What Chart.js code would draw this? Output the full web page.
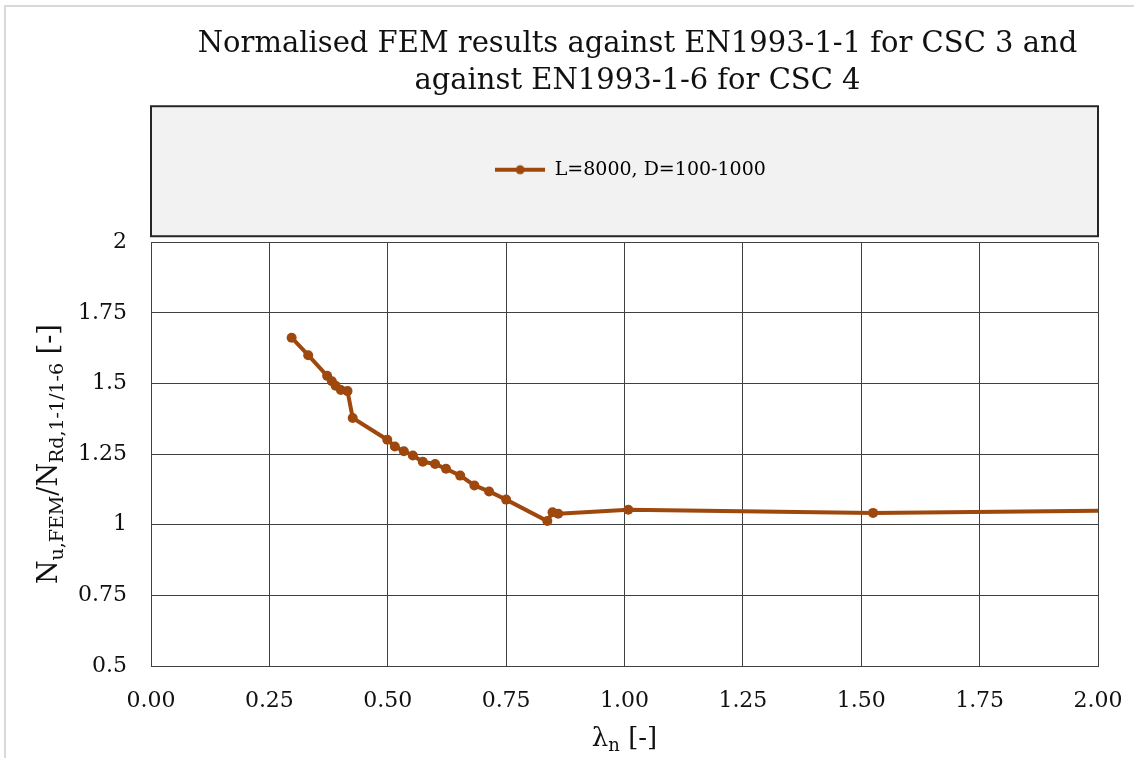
<!DOCTYPE html>
<html>
<head>
<meta charset="utf-8">
<title>Normalised FEM results</title>
<script src="https://cdn.jsdelivr.net/npm/chart.js@4.4.1/dist/chart.umd.min.js"></script>
<style>
  html, body { margin: 0; padding: 0; background: #fff; }
  #wrap { position: relative; width: 1134px; height: 758px; }
</style>
</head>
<body>
<div id="wrap"><canvas id="femChart"></canvas></div>
<script>
// normalised slenderness and FEM / code resistance ratio
const slenderness = [0.297, 0.332, 0.372, 0.382, 0.390, 0.401, 0.415, 0.426, 0.499, 0.515,
  0.534, 0.553, 0.574, 0.600, 0.623, 0.653, 0.683, 0.714, 0.750, 0.837,
  0.848, 0.860, 1.008, 1.525, 2.500];
const resistanceRatio = [1.662, 1.600, 1.527, 1.508, 1.492, 1.477, 1.473, 1.378, 1.301, 1.277,
  1.260, 1.245, 1.223, 1.215, 1.198, 1.174, 1.139, 1.118, 1.089, 1.013,
  1.044, 1.039, 1.053, 1.042, 1.058];

const seriesLabel = 'L=8000, D=100-1000';
const titleLines = ['Normalised FEM results against EN1993-1-1 for CSC 3 and', 'against EN1993-1-6 for CSC 4'];
const xTickLabels = ['0.00', '0.25', '0.50', '0.75', '1.00', '1.25', '1.50', '1.75', '2.00'];
const yTickLabels = ['0.5', '0.75', '1', '1.25', '1.5', '1.75', '2'];

const SERIF = '"DejaVu Serif", "Liberation Serif", serif';
const INK = '#111111';
const LINE = '#9e480e';
const GRID = '#404040';

// axis titles with subscripts
const xTitleParts = [{ t: 'λ' }, { t: 'n', sub: true }, { t: ' [-]' }];
const yTitleParts = [{ t: 'N' }, { t: 'u,FEM', sub: true }, { t: '/N' }, { t: 'Rd,1-1/1-6', sub: true }, { t: ' [-]' }];

function drawRich(ctx, parts, size) {
  let total = 0;
  parts.forEach(p => {
    ctx.font = (p.sub ? Math.round(size * 0.7) : size) + 'px ' + SERIF;
    p.w = ctx.measureText(p.t).width;
    total += p.w;
  });
  let x = -total / 2;
  parts.forEach(p => {
    ctx.font = (p.sub ? Math.round(size * 0.7) : size) + 'px ' + SERIF;
    ctx.fillText(p.t, x, p.sub ? size * 0.3 : 0);
    x += p.w;
  });
}

// legend marker: short line with a dot in the middle
function legendMarker() {
  const c = document.createElement('canvas');
  c.width = 50; c.height = 12;
  const g = c.getContext('2d');
  g.strokeStyle = LINE; g.lineWidth = 4;
  g.beginPath(); g.moveTo(0, 6); g.lineTo(50, 6); g.stroke();
  g.fillStyle = LINE;
  g.beginPath(); g.arc(25, 6, 4.5, 0, Math.PI * 2); g.fill();
  return c;
}

const LEGEND_EXTRA = 53; // gap under the legend item, down to the plot

const frameAndLegendBox = {
  id: 'frameAndLegendBox',
  beforeLayout(chart) {
    const legend = chart.legend;
    if (legend && !legend._tallFit) {
      const fit = legend.fit.bind(legend);
      legend.fit = function () { fit(); this.height += LEGEND_EXTRA; };
      legend._tallFit = true;
    }
  },
  beforeDraw(chart) {
    const { ctx, chartArea: a, legend, titleBlock } = chart;
    ctx.save();
    ctx.fillStyle = '#d9d9d9';
    ctx.fillRect(4, 5, 2, chart.height);
    ctx.fillRect(4, 5, chart.width, 2);

    // legend box spans the plot width
    legend.left = a.left + 12;
    legend.right = a.right;
    legend.width = legend.right - legend.left;
    const boxBottom = a.top - 6;
    ctx.fillStyle = '#f2f2f2';
    ctx.fillRect(a.left, legend.top, a.right - a.left, boxBottom - legend.top);
    ctx.strokeStyle = '#262626';
    ctx.lineWidth = 2;
    ctx.strokeRect(a.left, legend.top, a.right - a.left, boxBottom - legend.top);

    titleBlock.left = a.left + 26;
    titleBlock.right = a.right;
    ctx.restore();
  }
};

const axisTitles = {
  id: 'axisTitles',
  afterDraw(chart) {
    const { ctx, chartArea: a } = chart;
    ctx.save();
    ctx.fillStyle = INK;
    ctx.textBaseline = 'middle';
    ctx.translate((a.left + a.right) / 2, 739);
    drawRich(ctx, xTitleParts, 26);
    ctx.restore();

    ctx.save();
    ctx.fillStyle = INK;
    ctx.textBaseline = 'middle';
    ctx.translate(50, (a.top + a.bottom) / 2);
    ctx.rotate(-Math.PI / 2);
    drawRich(ctx, yTitleParts, 27);
    ctx.restore();
  }
};

new Chart(document.getElementById('femChart'), {
  type: 'line',
  data: {
    datasets: [{
      label: seriesLabel,
      data: slenderness.map((x, i) => ({ x: x, y: resistanceRatio[i] })),
      borderColor: LINE,
      backgroundColor: LINE,
      borderWidth: 4,
      pointRadius: 5,
      pointStyle: 'circle',
      pointBackgroundColor: LINE,
      pointBorderWidth: 0,
      tension: 0,
      fill: false
    }]
  },
  plugins: [frameAndLegendBox, axisTitles],
  options: {
    responsive: true,
    maintainAspectRatio: false,
    animation: false,
    layout: { padding: { left: 76, right: 36, top: 0, bottom: 46 } },
    plugins: {
      title: {
        display: true,
        text: titleLines,
        color: INK,
        font: { family: SERIF, size: 29, weight: 'normal', lineHeight: 1.28 },
        padding: { top: 26, bottom: 6 }
      },
      legend: {
        display: true,
        labels: {
          color: INK,
          font: { family: SERIF, size: 19 },
          usePointStyle: true,
          pointStyleWidth: 50,
          padding: 54,
          generateLabels(chart) {
            const ds = chart.data.datasets[0];
            return [{ text: ds.label, pointStyle: legendMarker(), fillStyle: LINE, strokeStyle: LINE, lineWidth: 0, datasetIndex: 0 }];
          }
        }
      },
      tooltip: { enabled: false }
    },
    scales: {
      x: {
        type: 'linear',
        min: 0,
        max: 2,
        afterFit(scale) {
          scale.height = 46;
          // the last tick label may overhang into the right padding
          scale.paddingLeft = 0;
          scale.paddingRight = 0;
        },
        ticks: {
          stepSize: 0.25,
          autoSkip: false,
          maxRotation: 0,
          padding: 22,
          color: INK,
          font: { family: SERIF, size: 22 },
          callback: (v, i) => xTickLabels[i]
        },
        grid: { color: GRID, lineWidth: 1, drawTicks: false },
        border: { color: GRID, width: 1 }
      },
      y: {
        type: 'linear',
        min: 0.5,
        max: 2,
        afterFit(scale) { scale.width = 75; },
        ticks: {
          stepSize: 0.25,
          padding: 24,
          color: INK,
          font: { family: SERIF, size: 22 },
          callback: (v, i) => yTickLabels[i]
        },
        grid: { color: GRID, lineWidth: 1, drawTicks: false },
        border: { color: GRID, width: 1 }
      }
    }
  }
});
</script>
</body>
</html>
